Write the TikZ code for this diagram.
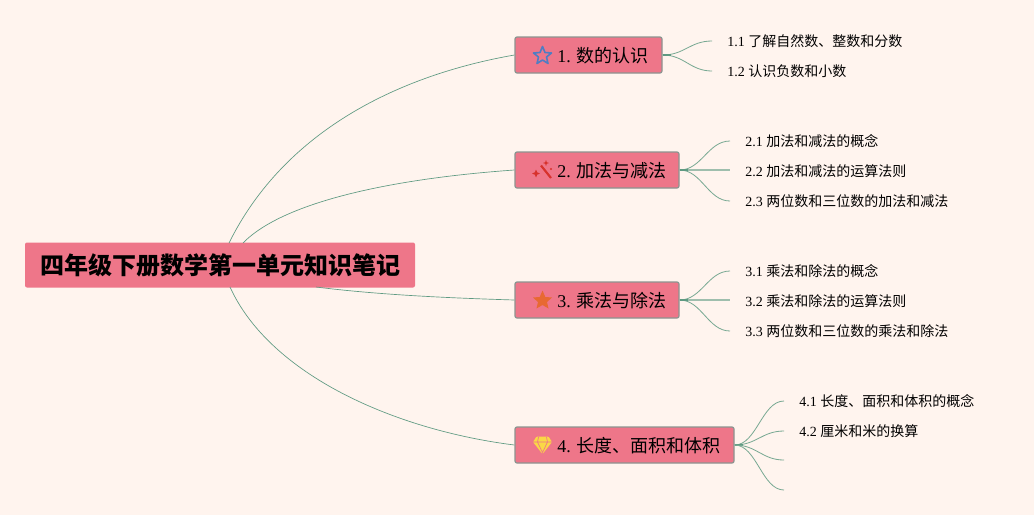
\documentclass[tikz,border=0pt]{standalone}
\usepackage{fontspec}
\setmainfont{Liberation Serif}
\newfontfamily\cjk{Noto Sans CJK SC}
\newcommand{\cj}[1]{{\cjk #1}}
\definecolor{bgc}{HTML}{FFF4EE}
\definecolor{boxc}{HTML}{EE7689}
\definecolor{edgec}{HTML}{8C9490}
\definecolor{linec}{HTML}{5F9A82}
\definecolor{icblue}{RGB}{80,125,195}
\definecolor{icred}{RGB}{215,50,45}
\definecolor{icorange}{RGB}{232,105,50}
\definecolor{icyellow}{RGB}{250,215,70}
\newcommand{\pxu}{*0.75pt}
\tikzset{
  rootbox/.style={fill=boxc,rounded corners=1.5pt,minimum width=390\pxu,minimum height=45\pxu,inner sep=0pt,font=\fontsize{18}{20}\selectfont\bfseries},
  branchbox/.style={fill=boxc,draw=edgec,line width=0.9pt,rounded corners=1.5pt,minimum height=36\pxu,inner sep=0pt},
  btext/.style={anchor=west,font=\fontsize{13.5}{16}\selectfont,inner sep=0pt},
  leaf/.style={anchor=west,inner xsep=11.25pt,inner ysep=2pt,font=\fontsize{10.5}{13}\selectfont},
  link/.style={linec,line width=0.5pt},
  twig/.style={linec!85!bgc,line width=0.6pt},
  flat/.style={linec!60!bgc,line width=1pt},
  stub/.style={linec,line width=1.2pt}
}
\begin{document}
\begin{tikzpicture}[x=0.75pt,y=-0.75pt]
\useasboundingbox (0,0) rectangle (1034,515);
\fill[bgc] (0,0) rectangle (1034,515);
\node[rootbox,anchor=center] (root) at (220,265) {\cjk\bfseries 四年级下册数学第一单元知识笔记};
\node[branchbox,minimum width=147\pxu] (b1) at (588.5,55) {};
\node[branchbox,minimum width=164\pxu] (b2) at (597,170) {};
\node[branchbox,minimum width=164\pxu] (b3) at (597,300) {};
\node[branchbox,minimum width=219\pxu] (b4) at (624.5,445) {};
\node[btext] (t1) at (557,56) {1. \cj{数的认识}};
\node[btext] (t2) at (557,171) {2. \cj{加法与减法}};
\node[btext] (t3) at (557,301) {3. \cj{乘法与除法}};
\node[btext] (t4) at (557,446) {4. \cj{长度、面积和体积}};
\node[leaf] (l11) at (712,41) {1.1 \cj{了解自然数、整数和分数}};
\node[leaf] (l12) at (712,71) {1.2 \cj{认识负数和小数}};
\node[leaf] (l21) at (730,141) {2.1 \cj{加法和减法的概念}};
\node[leaf] (l22) at (730,171) {2.2 \cj{加法和减法的运算法则}};
\node[leaf] (l23) at (730,201) {2.3 \cj{两位数和三位数的加法和减法}};
\node[leaf] (l31) at (730,271) {3.1 \cj{乘法和除法的概念}};
\node[leaf] (l32) at (730,301) {3.2 \cj{乘法和除法的运算法则}};
\node[leaf] (l33) at (730,331) {3.3 \cj{两位数和三位数的乘法和除法}};
\node[leaf] (l41) at (784,401) {4.1 \cj{长度、面积和体积的概念}};
\node[leaf] (l42) at (784,431) {4.2 \cj{厘米和米的换算}};
\coordinate (l43) at (784,460);
\coordinate (l44) at (784,490);
\coordinate (r1) at (229,243);
\coordinate (r2) at (243,243);
\coordinate (r3) at (316,287);
\coordinate (r4) at (230,287);
\draw[link] (r1) .. controls (285,130) and (400,75) .. (b1.west);
\draw[link] (r2) .. controls (285,200) and (400,178) .. (b2.west);
\draw[link] (r3) .. controls (380,295) and (450,298) .. (b3.west);
\draw[link] (r4) .. controls (270,375) and (395,430) .. (b4.west);
\foreach \b/\l in {b2/l22,b3/l32}{\draw[flat] (\b.east) -- (\l.west|-\b.east);}
\foreach \b/\l in {b1/l11,b1/l12,b2/l21,b2/l23,b3/l31,b3/l33,b4/l41,b4/l42}{
  \draw[twig] (\b.east) .. controls +(22,0) and ([xshift=-16.5pt]\l.west) .. (\l.west);
  \draw[stub] (\b.east) -- +(8,0);
}
\foreach \l in {l43,l44}{
  \draw[twig] (b4.east) .. controls +(22,0) and ([xshift=-16.5pt]\l) .. (\l);
}
\draw[icblue,line width=1.2pt,line join=round]
  (542.5,46.5) -- (545,52.5) -- (551.5,53) -- (546.5,57) -- (548,63.5) -- (542.5,60) -- (537,63.5) -- (538.5,57) -- (533.5,53) -- (540,52.5) -- cycle;
\draw[icred,line width=1.6pt] (541,165.5) -- (551,178);
\fill[icred] (536,169.5) -- (537.2,172.3) -- (540,173.5) -- (537.2,174.7) -- (536,177.5) -- (534.8,174.7) -- (532,173.5) -- (534.8,172.3) -- cycle;
\fill[icred] (546,160) -- (546.8,162.2) -- (549,163) -- (546.8,163.8) -- (546,166) -- (545.2,163.8) -- (543,163) -- (545.2,162.2) -- cycle;
\fill[icred] (551,169) circle (1.2);
\fill[icorange] (542.5,290.5) -- (545.3,297) -- (552,297.5) -- (547,302) -- (548.5,308.5) -- (542.5,305) -- (536.5,308.5) -- (538,302) -- (533,297.5) -- (539.7,297) -- cycle;
\fill[icyellow,rounded corners=0.8pt] (536.5,436.5) -- (548.5,436.5) -- (552,442) -- (542.5,454) -- (533,442) -- cycle;
\draw[boxc,line width=0.5pt] (534,442) -- (551,442) (538.5,437) -- (537.5,442) -- (542.5,452.5) -- (547.5,442) -- (546.5,437);
\end{tikzpicture}
\end{document}
